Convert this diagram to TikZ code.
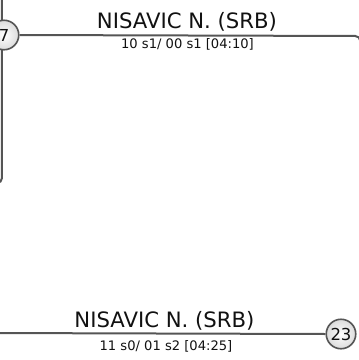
\documentclass[tikz,border=0pt]{standalone}
\usepackage{fontspec}
\setmainfont{DejaVu Sans}
\definecolor{linegray}{HTML}{555555}
\definecolor{txt}{HTML}{111111}
\begin{document}
\begin{tikzpicture}[x=1pt,y=-1pt,
  conn/.style={draw=linegray,line width=2pt,rounded corners=5pt},
  seed/.style={circle,draw=linegray,line width=1.6pt,minimum size=29.5pt,inner sep=0pt,
    inner color=white,outer color=gray!28,text=txt,font=\fontsize{16.5}{16}\selectfont},
  title/.style={anchor=base,text=txt,inner sep=0pt,font=\fontsize{21.2}{21}\selectfont},
  score/.style={anchor=base,text=txt,inner sep=0pt,font=\fontsize{13.1}{13}\selectfont}]
\useasboundingbox (0,0) rectangle (359,360);
% free ends
\coordinate (ltop) at (2,-10);
\coordinate (lbot) at (2,183);
\coordinate (lhook) at (-12,183);
\coordinate (rcorner) at (360.3,36);
\coordinate (rbot) at (360.3,200);
\coordinate (bleft) at (-10,333);
% left bracket line
\draw[conn] (ltop) -- (lbot) -- (lhook);
% seeds
\node[seed] (s7) at (4,35) {7};
\node[seed] (s23) at (341,334) {23};
% connectors
\draw[conn] (s7.east) -- (rcorner) -- (rbot);
\draw[conn] (bleft) -- (s23.west);
% labels
\node[title] (t1) at (187,28) {NISAVIC N. (SRB)};
\node[score] (r1) at (187.5,48.5) {10 s1/ 00 s1 [04:10]};
\node[title] (t2) at (164.5,327) {NISAVIC N. (SRB)};
\node[score] (r2) at (166,350) {11 s0/ 01 s2 [04:25]};
\end{tikzpicture}
\end{document}
